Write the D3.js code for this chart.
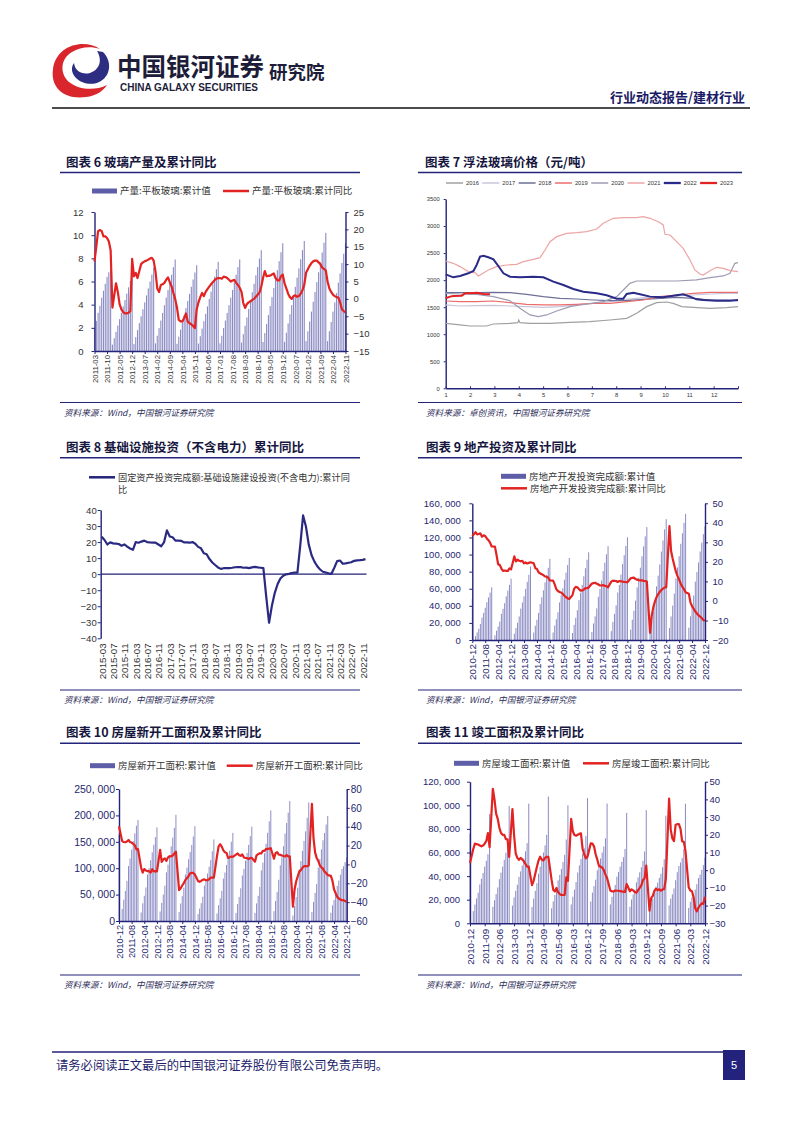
<!DOCTYPE html>
<html><head><meta charset="utf-8">
<script src="https://cdn.jsdelivr.net/npm/d3@7"></script>
<style>
body{margin:0;background:#fff;}
svg{display:block;}
</style></head><body>
<script>
// ---------------- DATA ----------------
// Chart 6: flat glass output (cumulative, 亿重量箱) and cumulative YoY (%)
const glassStart = "2011-03", glassEnd = "2022-11";
const glassCum = [
2.0,2.6,3.3,3.9,4.6,5.2,5.8,6.4,6.8,7.0,
0.55,1.1,1.65,2.2,2.75,3.3,3.85,4.4,4.95,5.5,6.05,6.6,
0.6,1.2,1.8,2.4,3.0,3.6,4.2,4.8,5.4,6.0,6.6,7.2,
0.66,1.32,1.98,2.63,3.29,3.95,4.61,5.27,5.93,6.58,7.24,7.9,
0.62,1.23,1.85,2.47,3.08,3.7,4.32,4.93,5.55,6.17,6.78,7.4,
0.64,1.28,1.93,2.57,3.21,3.85,4.49,5.13,5.78,6.42,7.06,7.7,
0.66,1.32,1.98,2.63,3.29,3.95,4.61,5.27,5.93,6.58,7.24,7.9,
0.73,1.45,2.18,2.9,3.63,4.35,5.08,5.8,6.53,7.25,7.98,8.7,
0.78,1.55,2.33,3.1,3.88,4.65,5.43,6.2,6.98,7.75,8.53,9.3,
0.79,1.58,2.38,3.17,3.96,4.75,5.54,6.33,7.13,7.92,8.71,9.5,
0.85,1.7,2.55,3.4,4.25,5.1,5.95,6.8,7.65,8.5,9.35,10.2,
0.85,1.7,2.5,3.4,4.2,5.0,5.9,6.7,7.6,8.4,9.3];
const glassYoY = [
10.8,15,19.5,19.8,19.5,18,18,17.5,16.5,14,
-2.5,1,4.5,2,-1.5,-3,-3.8,-4.2,-4.2,-4,
-3.5,11.5,6.5,7.5,6,8,10,10.5,10.8,11,
11.3,11.6,11.8,11,8,3,2,4,4.2,4.6,
5.5,6.2,4.8,3.6,1.7,0,-2.5,-6,-6.5,-6.5,
-5.5,-4.2,-6.5,-7,-7.3,-7.8,-8.4,-3,-1,0.5,
1.7,0.8,2,2.8,3.5,4.2,4.8,5.4,5.8,6,
6,5.8,6.4,6.3,6,5.5,5,5.3,5.5,4.6,
4,3.2,2,-1.2,-2.6,-1.5,-1,-0.7,-0.3,0,
0.6,1.2,1.8,3.5,6,8,6.5,6.6,6.7,7,
7.3,6,5.3,5.3,6.5,7,4.5,3,1.5,0.5,
0,0.8,1,0.6,0.8,1.5,2.5,4,7.5,8.5,
9.5,10.3,10.8,11,11,10.5,10,9,8.6,8.2,
5,3,2,1.2,0.8,0.5,0.4,-1,-3,-3.5,
-3.9];
const glassXLabels = ["2011-03","2011-10","2012-05","2012-12","2013-07","2014-02","2014-09","2015-04","2015-11","2016-06","2017-01","2017-08","2018-03","2018-10","2019-05","2019-12","2020-07","2021-02","2021-09","2022-04","2022-11"];
const glassLeftTicks = [0,2,4,6,8,10,12];
const glassRightTicks = [-15,-10,-5,0,5,10,15,20,25];

// Chart 7: float glass price by year (x = month position, y = 元/吨)
const priceYears = ["2016","2017","2018","2019","2020","2021","2022","2023"];
const price2016 = [[1,1202],[1.59,1171],[2.0,1152],[2.68,1152],[2.96,1189],[3.64,1202],[3.96,1214],[4.0,1263],[4.05,1214],[4.46,1202],[5.28,1202],[6.1,1220],[6.92,1232],[7.74,1263],[8.43,1294],[8.84,1386],[9.25,1510],[9.66,1584],[10.07,1596],[10.34,1571],[10.69,1510],[11.16,1497],[11.85,1479],[12.53,1491],[13,1510]];
const price2017 = [[1,1541],[1.59,1522],[2.27,1528],[2.96,1534],[3.64,1522],[4.32,1510],[5.01,1497],[5.69,1510],[6.38,1541],[7.06,1571],[7.74,1602],[8.43,1645],[9.11,1676],[9.8,1695],[10.48,1707],[11.16,1725],[11.85,1744],[12.53,1756],[13,1756]];
const price2018 = [[1,1768],[1.59,1768],[2.27,1768],[2.96,1775],[3.64,1768],[4.32,1738],[5.01,1695],[5.69,1664],[6.38,1651],[7.06,1633],[7.74,1620],[8.43,1620],[9.11,1645],[9.8,1664],[10.48,1682],[11.16,1664],[11.85,1633],[12.53,1633],[13,1620]];
const price2019 = [[1,1614],[1.59,1602],[2.27,1602],[2.96,1614],[3.64,1584],[4.32,1553],[5.01,1541],[5.69,1541],[6.38,1553],[7.06,1571],[7.74,1571],[8.43,1602],[9.11,1633],[9.8,1695],[10.48,1725],[11.16,1756],[11.85,1775],[12.53,1775],[13,1775]];
const price2020 = [[1,1756],[1.59,1744],[2.27,1738],[2.96,1695],[3.64,1620],[4.05,1479],[4.46,1356],[4.8,1325],[5.14,1356],[5.56,1430],[6.1,1510],[6.79,1559],[7.47,1602],[8.02,1695],[8.29,1818],[8.56,1941],[8.84,1984],[9.39,1984],[10.48,1984],[11.3,2003],[11.85,2046],[12.4,2077],[12.67,2126],[12.87,2311],[13,2323]];
const price2021 = [[1,2354],[1.31,2311],[1.59,2250],[1.93,2157],[2.2,2138],[2.34,2077],[2.48,2114],[2.75,2188],[3.09,2250],[3.5,2280],[3.91,2292],[4.19,2342],[4.6,2385],[4.87,2416],[5.08,2557],[5.28,2711],[5.56,2804],[5.97,2865],[6.38,2878],[6.79,2896],[7.2,2945],[7.47,3050],[7.88,3143],[8.29,3155],[8.84,3155],[9.11,3173],[9.39,3143],[9.73,3081],[9.93,3020],[10.0,2847],[10.21,2835],[10.48,2711],[10.75,2588],[11.03,2372],[11.23,2188],[11.44,2114],[11.57,2095],[11.85,2175],[12.12,2237],[12.4,2218],[12.67,2175],[13,2157]];
const price2022 = [[1,2107],[1.31,2052],[1.59,2077],[1.93,2126],[2.14,2169],[2.27,2280],[2.41,2434],[2.55,2452],[2.75,2422],[2.96,2385],[3.16,2262],[3.37,2126],[3.64,2064],[4.05,2052],[4.6,2064],[5.01,2052],[5.42,1972],[5.83,1910],[6.24,1836],[6.65,1787],[7.2,1756],[7.61,1719],[8.02,1658],[8.29,1658],[8.43,1744],[8.7,1768],[8.98,1738],[9.39,1695],[9.93,1682],[10.34,1713],[10.75,1738],[11.03,1695],[11.3,1645],[11.57,1633],[12.12,1620],[12.67,1620],[13,1633]];
const price2023 = [[1,1664],[1.18,1695],[1.31,1707],[1.66,1713],[1.79,1756],[2.0,1756],[2.27,1768],[2.55,1744],[2.82,1738]];
const priceYTicks = [0,500,1000,1500,2000,2500,3000,3500];
const priceXLabels = [1,2,3,4,5,6,7,8,9,10,11,12];

// Chart 8: infrastructure investment (excl. power), cumulative YoY %
const infraStart = "2015-03", infraEnd = "2022-12";
const infraYoY = [
23.3,21.3,18.5,19.8,19.2,19,18.8,17.7,18.5,17.2,
16,15.2,20,19.6,20.3,20.9,20,19.8,19.7,19.6,
18.5,17.4,20,27.3,23.5,23,20.9,20.9,20.8,19.8,
19.8,19.6,20,19,17,16.1,13,12.4,9.4,7.3,
5.7,4.2,3.3,3.7,3.7,3.8,4,4.3,4.4,4.4,
4,4.1,3.8,4.2,4.5,4.2,4,3.8,-14,-30.3,
-19.7,-11.8,-6.3,-2.7,-1,-0.1,0.2,0.7,1,0.9,
18,36.6,29.7,18.4,11.8,7.8,4.9,2.9,1.5,1,
0.5,0.2,4,8.1,8.5,6.5,6.7,7.1,7.4,8.3,
8.6,8.7,8.9,9.4];
const infraXLabels = ["2015-03","2015-07","2015-11","2016-03","2016-07","2016-11","2017-03","2017-07","2017-11","2018-03","2018-07","2018-11","2019-03","2019-07","2019-11","2020-03","2020-07","2020-11","2021-03","2021-07","2021-11","2022-03","2022-07","2022-11"];
const infraYTicks = [-40,-30,-20,-10,0,10,20,30,40];

// Chart 9-11 share month range 2010-12 .. 2022-12 (Jan not published -> null)
const reStart = "2010-12", reEnd = "2022-12";
const reInvest = [48267,
null,4455,8847,13133,18737,26250,31780,37781,44307,49872,55519,61740,
null,5436,10846,15702,21549,30610,36618,43014,51046,57881,64550,71804,
null,7349,13945,20230,27548,36828,43953,51208,59863,68064,76329,86013,
null,8706,16642,23669,31702,42019,50048,58181,67467,76048,84559,95036,
null,8786,16914,24302,32450,43955,52346,60555,70535,78801,87702,95979,
null,8152,17677,25926,34837,46631,55360,64412,74598,84005,93931,102581,
null,9478,19292,27732,36990,50610,59761,69694,80644,90544,100387,109799,
null,10357,21291,30592,40632,55531,64489,76519,88948,99325,110083,120264,
null,12090,23803,34217,46075,61609,72843,84589,98008,109603,121265,132194,
null,10115,21963,33103,45920,62780,75325,88454,103484,116556,129492,141443,
null,13986,27576,40240,54318,72179,84895,98060,112568,124934,137086,147602,
null,14499,27765,39154,52134,68314,79462,90809,103559,113945,123863,132895];
const reInvestYoY = [33.2,
null,35.2,34.1,34.3,34.6,32.9,33.6,33.2,32.0,31.1,29.9,27.9,
null,27.8,23.5,18.7,18.5,16.6,15.4,15.6,15.4,15.4,16.7,16.2,
null,22.8,20.2,21.1,20.6,20.3,20.5,19.3,19.7,19.2,19.5,19.8,
null,19.3,16.8,16.4,14.7,14.1,13.7,13.2,12.5,12.4,11.9,10.5,
null,10.4,8.5,6.0,5.1,4.6,4.3,3.5,2.6,2.0,1.3,1.0,
null,3.0,6.2,7.2,7.0,6.1,5.3,5.4,5.8,6.6,6.5,6.9,
null,8.9,9.1,9.3,8.8,8.5,7.9,7.9,8.1,7.8,7.5,7.0,
null,9.9,10.4,10.3,10.2,9.7,10.2,10.1,9.9,9.7,9.7,9.5,
null,11.6,11.8,11.9,11.2,10.9,10.6,10.5,10.5,10.3,10.2,9.9,
null,-16.3,-7.7,-3.3,-0.3,1.9,3.4,4.6,5.6,6.3,6.8,7.0,
null,38.3,25.6,21.6,18.3,15.0,12.7,10.9,8.8,7.2,6.0,4.4,
null,3.7,-0.7,-2.7,-4.0,-5.4,-6.4,-7.4,-8.0,-8.8,-9.8,-10.0];
const reXLabels = ["2010-12","2011-08","2012-04","2012-12","2013-08","2014-04","2014-12","2015-08","2016-04","2016-12","2017-08","2018-04","2018-12","2019-08","2020-04","2020-12","2021-08","2022-04","2022-12"];
const reLeftTicks = [0,20000,40000,60000,80000,100000,120000,140000,160000];
const reRightTicks = [-20,-10,0,10,20,30,40,50];

const newStart = [163647,
null,22823,40530,56823,75853,104066,118474,134914,151245,166050,180453,191237,
null,16155,33452,47745,63498,88005,99892,115040,130094,144316,158886,177334,
null,18010,34271,50040,67007,92159,106808,125041,141414,158007,176567,201208,
null,16880,33112,47215,63111,88103,101221,117014,130522,143965,160133,179592,
null,13129,23590,33834,46109,67002,77740,89946,102777,115322,132085,154454,
null,14234,30051,43024,56985,80311,91869,106184,119432,133193,150089,166928,
null,15239,32170,45620,62033,86053,98649,114262,128964,144239,160662,178654,
null,15268,33474,47649,64713,95816,110700,128078,146284,167087,188895,209342,
null,18814,37920,54784,78092,105509,120811,141667,165707,185634,205194,227154,
null,10370,28203,45383,63084,97536,113443,132910,151674,169838,195417,224433,
null,17126,36163,53247,69996,101288,117165,135705,152944,166736,182820,198895,
null,15560,29638,39739,51628,66423,76471,87556,98689,103722,111632,120587];
const newStartYoY = [40.6,
null,24.7,23.8,23.5,24.3,26.0,23.6,23.2,21.9,20.3,16.0,16.2,
null,-3.5,-8.7,-4.9,-6.5,-7.1,-7.2,-8.7,-5.0,-7.5,-7.1,-7.3,
null,15.4,2.6,5.3,6.4,3.8,7.5,8.7,8.6,9.5,11.6,13.5,
null,-27.3,-25.2,-22.3,-19.8,-16.4,-14.4,-12.5,-9.3,-8.9,-9.0,-10.7,
null,-17.7,-18.4,-17.4,-16.2,-15.8,-16.8,-16.8,-15.6,-13.9,-13.9,-14.0,
null,9.1,19.2,21.4,18.9,14.9,12.9,12.2,6.9,7.6,8.4,8.1,
null,10.4,11.6,9.8,9.1,10.6,7.4,6.8,6.7,5.6,6.8,7.0,
null,2.9,9.7,10.9,11.8,11.8,14.4,14.4,16.4,16.3,16.8,17.2,
null,6.0,11.9,13.1,10.5,10.1,9.5,8.9,8.6,10.0,8.6,8.5,
null,-44.9,-27.2,-18.4,-12.8,-7.6,-6.0,-3.6,-1.9,-1.9,-2.0,-1.2,
null,64.3,28.2,12.8,6.9,3.8,-0.9,-3.2,-4.5,-7.7,-9.1,-11.4,
null,-12.2,-17.5,-26.3,-30.6,-34.4,-36.1,-37.2,-38.0,-37.8,-38.9,-39.4];
const newLeftTicks = [0,50000,100000,150000,200000,250000];
const newRightTicks = [-60,-40,-20,0,20,40,60,80];

const completed = [75961,
null,10300,15900,21100,25900,32900,37800,42700,48100,53000,58500,92620,
null,14000,19500,24800,30400,37400,42900,48000,53800,59800,66500,99425,
null,15000,22000,27500,32700,39300,44000,49000,55000,61000,68000,101435,
null,13800,21000,27500,34000,42000,48000,54000,60000,66000,75000,107459,
null,12700,18600,24000,29500,36500,41000,46000,52000,58000,71000,100039,
null,16000,22500,28500,35000,43000,49000,54500,59000,63600,74000,106128,
null,18500,26000,31500,37000,45000,50000,55000,60000,65000,72000,101486,
null,16000,22500,27500,32500,39600,43500,48000,52000,56000,63000,93550,
null,14000,20300,24500,28600,34700,38900,43200,47500,52900,60900,95942,
null,10800,17100,21000,25300,31000,34500,38500,42000,47500,54300,91218,
null,15200,21000,24600,29500,36500,43300,48600,51500,55300,63000,101412,
null,13000,18300,22000,24800,28600,33200,38400,41300,45300,49300,55700];
const completedYoY = [4,
null,12,15,14.7,14.5,14,13.5,14,15,16.5,21,13,
null,46,40,32,29,24,21,20,20,17.5,17.5,7.5,
null,34.5,20,9.5,7,5.8,7,6,5,3.5,2,2,
null,-8.4,-6,-2,2,5.5,7.6,6,5.5,7,7.6,7.6,
null,-5.5,-11,-12,-10,-12.5,-13.5,-14,-14,-14,-4,-6,
null,29,22,19.9,19.5,20,20.5,20.8,12,9,6.7,7.6,
null,15.2,15,13.5,9,6,2.5,2,1.5,0,-2.5,-4.4,
null,-11.5,-12,-12,-11.5,-11.6,-11.6,-11.8,-12,-12.2,-12.3,-7.8,
null,-11.9,-10.8,-11.4,-12.4,-12.7,-11.3,-10,-8.6,-5.5,-4.5,2.6,
null,-22.9,-15.8,-14.5,-11.6,-10.5,-11.3,-10.8,-11.6,-10.8,-10.7,-4.9,
null,40.4,22.9,17.9,16.4,25.7,26,26,23.4,16.3,16.1,11.2,
null,-9.6,-11.5,-11.9,-15.3,-21.5,-23.3,-21.1,-19.9,-18.7,-19,-15];
const compXLabels = ["2010-12","2011-09","2012-06","2013-03","2013-12","2014-09","2015-06","2016-03","2016-12","2017-09","2018-06","2019-03","2019-12","2020-09","2021-06","2022-03","2022-12"];
const compLeftTicks = [0,20000,40000,60000,80000,100000,120000];
const compRightTicks = [-30,-20,-10,0,10,20,30,40,50];

// ---------------- DRAWING ----------------
const NAVY = "#23237a", RED = "#e32222", BAR = "#8c8cc4", NLBL = "#26266e";
const SANS = "'Liberation Sans', Arial, sans-serif";
const CJK = "'Noto Sans CJK SC', sans-serif";
const svg = d3.select("body").append("svg").attr("width", 802).attr("height", 1133);
svg.append("rect").attr("width", 802).attr("height", 1133).attr("fill", "#fff");

function monthRange(a, b) {
  const out = []; let [y, m] = a.split("-").map(Number); const [ey, em] = b.split("-").map(Number);
  while (y < ey || (y === ey && m <= em)) { out.push(y + "-" + String(m).padStart(2, "0")); m++; if (m > 12) { m = 1; y++; } }
  return out;
}
function txt(x, y, s, o) {
  const t = svg.append("text").attr("x", x).attr("y", y).text(s)
    .attr("font-family", o.f || CJK).attr("font-size", o.s).attr("fill", o.c || "#222");
  if (o.w) t.attr("font-weight", o.w);
  if (o.a) t.attr("text-anchor", o.a);
  if (o.i) t.attr("font-style", "italic");
  if (o.len) t.attr("textLength", o.len).attr("lengthAdjust", "spacingAndGlyphs");
  return t;
}
function hline(x1, x2, y, c, w) {
  svg.append("line").attr("x1", x1).attr("x2", x2).attr("y1", y).attr("y2", y).attr("stroke", c).attr("stroke-width", w);
}
function panelTitle(x, y, s) { txt(x, y, s, { s: 12.5, w: 700, c: "#16163e" }); }
function source(x, y, s) { txt(x, y, s, { s: 8.6, i: true, c: "#2e2e5a" }); }
function legBar(x, y, s, fs) {
  svg.append("rect").attr("x", x).attr("y", y - 2.5).attr("width", 25).attr("height", 5).attr("fill", "#5e5ea8");
  txt(x + 28, y + 3.3, s, { s: fs || 9.5, c: "#333" });
}
function legLine(x, y, s, color, fs) {
  hline(x, x + 26, y, color, 2.5);
  txt(x + 29, y + 3.3, s, { s: fs || 9.5, c: "#333" });
}
function styleAxis(a, fs, color) {
  a.attr("font-family", SANS).attr("font-size", fs);
  a.select(".domain").attr("stroke", NAVY).attr("stroke-width", 1.4);
  a.selectAll(".tick line").attr("stroke", NAVY);
  a.selectAll("text").attr("fill", color);
}
const commaFmt = d => d3.format(",")(d).replace(/,/g, ", ");

function dualChart(c) {
  const months = monthRange(c.start, c.end);
  const x = d3.scalePoint().domain(months).range([c.x0, c.x1]);
  const yl = d3.scaleLinear().domain(c.ld).range([c.yb, c.yt]);
  const yr = d3.scaleLinear().domain(c.rd).range([c.yb, c.yt]);
  const g = svg.append("g");
  const bw = x.step() * 0.62;
  g.append("g").selectAll("rect")
    .data(months.map((m, i) => [m, c.bars[i]]).filter(d => d[1] != null))
    .join("rect")
    .attr("x", d => x(d[0]) - bw / 2).attr("width", bw)
    .attr("y", d => yl(d[1])).attr("height", d => yl(0) - yl(d[1]))
    .attr("fill", BAR);
  const aL = g.append("g").attr("transform", `translate(${c.x0},0)`)
    .call(d3.axisLeft(yl).tickValues(c.lt).tickSize(3).tickSizeOuter(0).tickPadding(c.padL).tickFormat(c.lf || (d => d)));
  styleAxis(aL, c.lfs, c.lc);
  const aR = g.append("g").attr("transform", `translate(${c.x1},0)`)
    .call(d3.axisRight(yr).tickValues(c.rt).tickSize(3).tickSizeOuter(0).tickPadding(c.padR));
  styleAxis(aR, c.rfs, c.lc);
  const aB = g.append("g").attr("transform", `translate(0,${c.yb})`)
    .call(d3.axisBottom(x).tickValues(c.xl).tickSize(3).tickSizeOuter(0));
  styleAxis(aB, c.xfs, c.lc);
  aB.selectAll("text").attr("transform", "rotate(-90)").attr("text-anchor", "end")
    .attr("x", -c.xOff).attr("y", 0).attr("dy", "0.35em");
  const ld = months.map((m, i) => [m, c.line[i]]).filter(d => d[1] != null);
  g.append("path").datum(ld).attr("fill", "none").attr("stroke", RED).attr("stroke-width", 2.2)
    .attr("stroke-linejoin", "round")
    .attr("d", d3.line().x(d => x(d[0])).y(d => yr(d[1])));
}

// ---------- Header ----------
svg.append("path").attr("d", "M100,49 C84,38 56,45 53,69 C50,89 66,100 86,97 C96,96 103,91 107,85 C95,91 79,90 69,82 C59,73 61,58 72,52 C80,47 91,46 100,49 Z").attr("fill", "#d8262c");
svg.append("path").attr("d", "M103,52 C112,61 111,75 101,81 C93,86 82,84 76,78 C71,73 71,67 74,63 C75,71 82,75 90,73 C99,70 103,61 97,51 Z").attr("fill", "#2d2d82");
txt(117, 75.5, "中国银河证券", { s: 24.5, w: 700, c: "#1d1d3a" });
txt(120, 90.5, "CHINA GALAXY SECURITIES", { f: SANS, s: 10, w: 700, c: "#1d1d3a", len: 138 });
txt(269, 79, "研究院", { s: 18.5, w: 700, c: "#1d1d3a" });
txt(745, 102, "行业动态报告/建材行业", { s: 13, w: 700, c: "#1a1a66", a: "end" });
hline(52, 750, 108, "#111", 1.6);

// ---------- Footer ----------
hline(52, 724, 1052, NAVY, 1.6);
txt(56, 1070, "请务必阅读正文最后的中国银河证券股份有限公司免责声明。", { s: 12.3, c: "#1e1e6a" });
svg.append("rect").attr("x", 723).attr("y", 1050).attr("width", 22).attr("height", 30).attr("fill", "#23237e");
txt(734, 1069, "5", { f: SANS, s: 11, c: "#fff", a: "middle" });

// ---------- Titles, rules, sources ----------
panelTitle(66, 166.5, "图表 6 玻璃产量及累计同比");
hline(60, 360, 172.5, NAVY, 1.5);
panelTitle(425, 166.5, "图表 7 浮法玻璃价格（元/吨）");
hline(418, 742, 172.5, NAVY, 1.5);
hline(60, 360, 402.5, NAVY, 1.2);
source(64, 416, "资料来源：Wind，中国银河证券研究院");
hline(418, 742, 402.5, NAVY, 1.2);
source(426, 416, "资料来源：卓创资讯，中国银河证券研究院");

panelTitle(66, 451.5, "图表 8 基础设施投资（不含电力）累计同比");
hline(60, 360, 457.7, NAVY, 1.5);
panelTitle(426, 451.5, "图表 9 地产投资及累计同比");
hline(418, 742, 457.7, NAVY, 1.5);
hline(60, 360, 690, NAVY, 1.2);
source(64, 703, "资料来源：Wind，中国银河证券研究院");
hline(418, 742, 690, NAVY, 1.2);
source(426, 703, "资料来源：Wind，中国银河证券研究院");

panelTitle(66, 736.5, "图表 10 房屋新开工面积及累计同比");
hline(60, 360, 743.3, NAVY, 1.5);
panelTitle(426, 736.5, "图表 11 竣工面积及累计同比");
hline(418, 742, 743.3, NAVY, 1.5);
hline(60, 360, 975, NAVY, 1.2);
source(64, 988, "资料来源：Wind，中国银河证券研究院");
hline(418, 742, 975, NAVY, 1.2);
source(426, 988, "资料来源：Wind，中国银河证券研究院");

// ---------- Chart 6 ----------
legBar(92, 191, "产量:平板玻璃:累计值");
legLine(223, 191, "产量:平板玻璃:累计同比", RED);
dualChart({ start: glassStart, end: glassEnd, bars: glassCum, line: glassYoY,
  x0: 94.5, x1: 345.5, yt: 212, yb: 351, ld: [0, 12], rd: [-15, 25],
  lt: glassLeftTicks, rt: glassRightTicks, xl: glassXLabels,
  padL: 8, padR: 5, lfs: 9.5, rfs: 9.5, xfs: 7.8, xOff: 4, lc: "#333" });

// ---------- Chart 7 ----------
(function () {
  const x = d3.scaleLinear().domain([1, 13]).range([445.7, 738]);
  const y = d3.scaleLinear().domain([0, 3500]).range([388.3, 199]);
  const series = [price2016, price2017, price2018, price2019, price2020, price2021, price2022, price2023];
  const colors = ["#a0a0a0", "#c6c6dc", "#6e6e98", "#ec6c6c", "#9c9cb4", "#eea4a4", "#2a2a88", "#e52222"];
  const widths = [1.2, 1.2, 1.2, 1.2, 1.2, 1.2, 2, 2];
  const g = svg.append("g");
  const aY = g.append("g").attr("transform", "translate(445.7,0)")
    .call(d3.axisLeft(y).tickValues(priceYTicks).tickSize(2).tickSizeOuter(0).tickPadding(4).tickFormat(d => String(d)));
  styleAxis(aY, 5.8, "#333");
  const aX = g.append("g").attr("transform", "translate(0,388.3)")
    .call(d3.axisBottom(x).tickValues(d3.range(1, 14)).tickSize(-2).tickSizeOuter(0).tickPadding(5).tickFormat(d => priceXLabels.includes(d) ? String(d) : ""));
  styleAxis(aX, 5.8, "#333");
  series.forEach((s, i) => {
    g.append("path").datum(s).attr("fill", "none").attr("stroke", colors[i]).attr("stroke-width", widths[i])
      .attr("d", d3.line().x(d => x(d[0])).y(d => y(d[1])));
  });
  priceYears.forEach((yr, i) => {
    const tx = 466 + i * 36.3;
    hline(tx - 20, tx - 3, 183, colors[i], widths[i] + 0.3);
    txt(tx, 185, yr, { f: SANS, s: 5.8, c: "#333" });
  });
})();

// ---------- Chart 8 ----------
(function () {
  legLine(89, 477.3, "固定资产投资完成额:基础设施建设投资(不含电力):累计同", NAVY, 9.2);
  txt(118, 492.5, "比", { s: 9.2, c: "#333" });
  const months = monthRange(infraStart, infraEnd);
  const x = d3.scalePoint().domain(months).range([101.7, 365.5]);
  const y = d3.scaleLinear().domain([-40, 40]).range([638.3, 510]);
  const g = svg.append("g");
  const aY = g.append("g").attr("transform", "translate(100.7,0)")
    .call(d3.axisLeft(y).tickValues(infraYTicks).tickSize(3).tickSizeOuter(0).tickPadding(1));
  styleAxis(aY, 9.5, "#333");
  const aZ = g.append("g").attr("transform", `translate(0,${y(0)})`)
    .call(d3.axisBottom(x).tickValues(infraXLabels).tickSize(0).tickSizeOuter(0).tickFormat(""));
  styleAxis(aZ, 9, "#333");
  aZ.select(".domain").attr("d", "M100.7,0H366.5");
  const aB = g.append("g").attr("transform", "translate(0,638.3)")
    .call(d3.axisBottom(x).tickValues(infraXLabels).tickSize(0).tickSizeOuter(0));
  styleAxis(aB, 9.8, "#333");
  aB.select(".domain").remove();
  aB.selectAll("text").attr("transform", "rotate(-90)").attr("text-anchor", "end").attr("x", -5).attr("y", 0).attr("dy", "0.35em");
  g.append("path").datum(infraYoY).attr("fill", "none").attr("stroke", "#2a2a82").attr("stroke-width", 2.2)
    .attr("stroke-linejoin", "round")
    .attr("d", d3.line().x((d, i) => x(months[i])).y(d => y(d)));
})();

// ---------- Chart 9 ----------
legBar(501, 476.3, "房地产开发投资完成额:累计值");
legLine(501, 488.3, "房地产开发投资完成额:累计同比", RED);
dualChart({ start: reStart, end: reEnd, bars: reInvest, line: reInvestYoY,
  x0: 472.3, x1: 705, yt: 503.3, yb: 640, ld: [0, 160000], rd: [-20, 50],
  lt: reLeftTicks, rt: reRightTicks, xl: reXLabels, lf: commaFmt,
  padL: 8.5, padR: 4.5, lfs: 9.5, rfs: 9.5, xfs: 9.8, xOff: 4, lc: NLBL });

// ---------- Chart 10 ----------
legBar(90, 765.7, "房屋新开工面积:累计值");
legLine(226.7, 765.7, "房屋新开工面积:累计同比", RED);
dualChart({ start: reStart, end: reEnd, bars: newStart, line: newStartYoY,
  x0: 119, x1: 346.7, yt: 789, yb: 921, ld: [0, 250000], rd: [-60, 80],
  lt: newLeftTicks, rt: newRightTicks, xl: reXLabels, lf: commaFmt,
  padL: 1, padR: 1, lfs: 10.5, rfs: 10, xfs: 9.2, xOff: 4, lc: NLBL });

// ---------- Chart 11 ----------
legBar(454, 763.3, "房屋竣工面积:累计值");
legLine(583, 763.3, "房屋竣工面积:累计同比", RED);
dualChart({ start: reStart, end: reEnd, bars: completed, line: completedYoY,
  x0: 470, x1: 705, yt: 781.7, yb: 923.3, ld: [0, 120000], rd: [-30, 50],
  lt: compLeftTicks, rt: compRightTicks, xl: compXLabels, lf: commaFmt,
  padL: 7, padR: 1.5, lfs: 9.5, rfs: 9.5, xfs: 9.8, xOff: 5.5, lc: NLBL });
</script>
</body></html>
